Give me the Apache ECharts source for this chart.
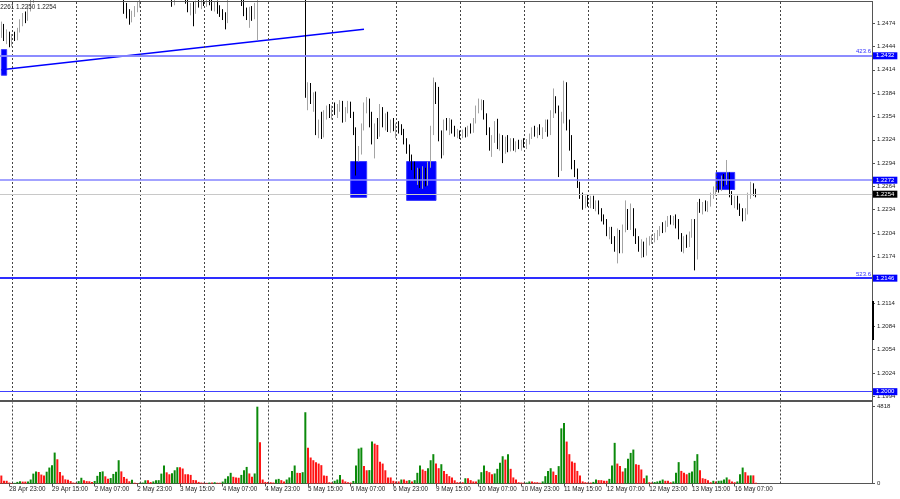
<!DOCTYPE html>
<html><head><meta charset="utf-8">
<script src="https://cdn.jsdelivr.net/npm/echarts@6/dist/echarts.min.js"></script>
<style>html,body{margin:0;padding:0;background:#fff}#c{width:900px;height:499px}</style>
</head><body><div id="c"></div>
<script>
// ---- time axis (H1 bars, weekends skipped) ----
const tradingDays = ['28 Apr','29 Apr','2 May','3 May','4 May','5 May','6 May','9 May','10 May','11 May','12 May','13 May','16 May','17 May','18 May'];
const tickLabels = ['28 Apr 23:00','29 Apr 15:00','2 May 07:00','2 May 23:00','3 May 15:00','4 May 07:00','4 May 23:00','5 May 15:00','6 May 07:00','6 May 23:00','9 May 15:00','10 May 07:00','10 May 23:00','11 May 15:00','12 May 07:00','12 May 23:00','13 May 15:00','16 May 07:00'];
const separators = ['29 Apr','2 May','3 May','4 May','5 May','6 May','9 May','10 May','11 May','12 May','13 May','16 May','17 May'];
const priceTicks = [1.2474,1.2444,1.2414,1.2384,1.2354,1.2324,1.2294,1.2264,1.2234,1.2204,1.2174,1.2144,1.2114,1.2084,1.2054,1.2024,1.1994];
const volTicks = [0, 4818];

// ---- candles [open, high, low, close] ----
const apr28 = [[1.2462,1.2476,1.2455,1.2470],[1.2470,1.2473,1.2451,1.2455],[1.2455,1.2466,1.2447,1.2461],[1.2461,1.2463,1.2443,1.2448]];
const apr29 = [[1.2448,1.2460,1.2444,1.2457],[1.2457,1.2463,1.2451,1.2454],[1.2454,1.2468,1.2452,1.2466],[1.2466,1.2479,1.2462,1.2476],[1.2476,1.2487,1.2470,1.2483],[1.2483,1.2489,1.2474,1.2479],[1.2479,1.2496,1.2477,1.2493],[1.2493,1.2507,1.2489,1.2503],[1.2503,1.2522,1.2500,1.2518],[1.2518,1.2535,1.2510,1.2530],[1.2530,1.2548,1.2522,1.2541],[1.2541,1.2560,1.2532,1.2555],[1.2555,1.2572,1.2540,1.2548],[1.2548,1.2580,1.2543,1.2575],[1.2575,1.2598,1.2566,1.2590],[1.2590,1.2613,1.2580,1.2605],[1.2605,1.2612,1.2570,1.2578],[1.2578,1.2590,1.2560,1.2568],[1.2568,1.2583,1.2561,1.2580],[1.2580,1.2588,1.2566,1.2572],[1.2572,1.2581,1.2564,1.2577],[1.2577,1.2584,1.2570,1.2574],[1.2574,1.2580,1.2566,1.2570],[1.2570,1.2578,1.2565,1.2573]];
const may2 = [[1.2573,1.2585,1.2562,1.2566],[1.2566,1.2572,1.2548,1.2552],[1.2552,1.2560,1.2538,1.2545],[1.2545,1.2556,1.2540,1.2550],[1.2550,1.2558,1.2543,1.2547],[1.2547,1.2553,1.2538,1.2541],[1.2541,1.2549,1.2534,1.2545],[1.2545,1.2552,1.2536,1.2539],[1.2539,1.2546,1.2527,1.2531],[1.2531,1.2540,1.2520,1.2536],[1.2536,1.2545,1.2524,1.2528],[1.2528,1.2535,1.2518,1.2522],[1.2522,1.2530,1.2514,1.2526],[1.2526,1.2533,1.2516,1.2519],[1.2519,1.2527,1.2508,1.2512],[1.2512,1.2524,1.2506,1.2520],[1.2520,1.2532,1.2505,1.2510],[1.2510,1.2518,1.2503,1.2507],[1.2507,1.2512,1.2486,1.2490],[1.2490,1.2500,1.2480,1.2484],[1.2484,1.2492,1.2472,1.2478],[1.2478,1.2490,1.2475,1.2487],[1.2487,1.2496,1.2482,1.2493],[1.2493,1.2502,1.2488,1.2499]];
const may3 = [[1.2499,1.2510,1.2494,1.2506],[1.2506,1.2520,1.2503,1.2516],[1.2516,1.2525,1.2508,1.2512],[1.2512,1.2522,1.2506,1.2518],[1.2518,1.2526,1.2512,1.2521],[1.2521,1.2530,1.2515,1.2526],[1.2526,1.2533,1.2517,1.2520],[1.2520,1.2528,1.2509,1.2514],[1.2514,1.2535,1.2510,1.2531],[1.2531,1.2544,1.2518,1.2522],[1.2522,1.2530,1.2508,1.2512],[1.2512,1.2520,1.2504,1.2508],[1.2508,1.2514,1.2495,1.2500],[1.2500,1.2512,1.2497,1.2509],[1.2509,1.2520,1.2505,1.2516],[1.2516,1.2524,1.2508,1.2512],[1.2512,1.2518,1.2504,1.2507],[1.2507,1.2514,1.2499,1.2503],[1.2503,1.2508,1.2488,1.2492],[1.2492,1.2500,1.2484,1.2497],[1.2497,1.2502,1.2470,1.2489],[1.2489,1.2503,1.2486,1.2500],[1.2500,1.2508,1.2494,1.2497],[1.2497,1.2506,1.2492,1.2502]];
const may4 = [[1.2502,1.2510,1.2496,1.2500],[1.2500,1.2509,1.2495,1.2505],[1.2505,1.2512,1.2497,1.2501],[1.2501,1.2506,1.2490,1.2494],[1.2494,1.2502,1.2489,1.2499],[1.2499,1.2503,1.2486,1.2490],[1.2490,1.2497,1.2482,1.2485],[1.2485,1.2492,1.2478,1.2481],[1.2481,1.2488,1.2466,1.2476],[1.2476,1.2505,1.2474,1.2502],[1.2502,1.2515,1.2502,1.2510],[1.2510,1.2518,1.2503,1.2507],[1.2507,1.2516,1.2504,1.2512],[1.2512,1.2520,1.2505,1.2509],[1.2509,1.2514,1.2496,1.2500],[1.2500,1.2505,1.2483,1.2487],[1.2487,1.2494,1.2478,1.2480],[1.2480,1.2495,1.2468,1.2490],[1.2490,1.2496,1.2477,1.2482],[1.2482,1.2500,1.2479,1.2497],[1.2497,1.2520,1.2452,1.2515],[1.2515,1.2600,1.2510,1.2590],[1.2590,1.2625,1.2580,1.2615],[1.2615,1.2630,1.2598,1.2605]];
const may5 = [[1.2605,1.2615,1.2590,1.2598],[1.2598,1.2612,1.2592,1.2606],[1.2606,1.2618,1.2600,1.2612],[1.2612,1.2630,1.2605,1.2620],[1.2620,1.2635,1.2612,1.2628],[1.2628,1.2633,1.2615,1.2618],[1.2618,1.2626,1.2608,1.2612],[1.2612,1.2622,1.2598,1.2604],[1.2604,1.2610,1.2585,1.2590],[1.2590,1.2600,1.2570,1.2578],[1.2578,1.2590,1.2560,1.2583],[1.2583,1.2592,1.2566,1.2572],[1.2572,1.2585,1.2562,1.2580],[1.2580,1.2590,1.2555,1.2560],[1.2560,1.2575,1.2378,1.2386],[1.2386,1.2398,1.2362,1.2392],[1.2392,1.2397,1.2370,1.2375],[1.2375,1.2385,1.2360,1.2381],[1.2381,1.2386,1.2330,1.2338],[1.2338,1.2350,1.2326,1.2346],[1.2346,1.2360,1.2325,1.2330],[1.2330,1.2362,1.2327,1.2358],[1.2358,1.2368,1.2350,1.2363],[1.2363,1.2370,1.2352,1.2357]];
const may6 = [[1.2357,1.2368,1.2350,1.2364],[1.2364,1.2372,1.2356,1.2360],[1.2360,1.2370,1.2352,1.2367],[1.2367,1.2375,1.2360,1.2371],[1.2371,1.2374,1.2346,1.2350],[1.2350,1.2366,1.2347,1.2362],[1.2362,1.2374,1.2358,1.2371],[1.2371,1.2373,1.2352,1.2356],[1.2356,1.2360,1.2330,1.2335],[1.2335,1.2340,1.2278,1.2308],[1.2308,1.2316,1.2296,1.2314],[1.2314,1.2345,1.2305,1.2340],[1.2340,1.2372,1.2336,1.2368],[1.2368,1.2379,1.2358,1.2374],[1.2374,1.2377,1.2340,1.2345],[1.2345,1.2360,1.2318,1.2326],[1.2326,1.2345,1.2300,1.2340],[1.2340,1.2352,1.2325,1.2330],[1.2330,1.2370,1.2328,1.2362],[1.2362,1.2366,1.2340,1.2345],[1.2345,1.2358,1.2336,1.2352],[1.2352,1.2360,1.2334,1.2338],[1.2338,1.2350,1.2333,1.2346],[1.2346,1.2352,1.2335,1.2340]];
const may9 = [[1.2330,1.2345,1.2326,1.2342],[1.2342,1.2348,1.2332,1.2336],[1.2336,1.2344,1.2330,1.2334],[1.2334,1.2338,1.2318,1.2322],[1.2322,1.2326,1.2306,1.2310],[1.2310,1.2318,1.2296,1.2300],[1.2300,1.2305,1.2285,1.2290],[1.2290,1.2296,1.2274,1.2279],[1.2279,1.2288,1.2266,1.2284],[1.2284,1.2287,1.2262,1.2268],[1.2268,1.2290,1.2261,1.2285],[1.2285,1.2288,1.2264,1.2270],[1.2270,1.2296,1.2265,1.2292],[1.2292,1.2342,1.2288,1.2338],[1.2338,1.2404,1.2330,1.2390],[1.2390,1.2398,1.2370,1.2386],[1.2386,1.2392,1.2322,1.2328],[1.2328,1.2336,1.2300,1.2308],[1.2308,1.2350,1.2304,1.2346],[1.2346,1.2352,1.2336,1.2340],[1.2340,1.2352,1.2330,1.2348],[1.2348,1.2350,1.2332,1.2336],[1.2336,1.2342,1.2328,1.2332],[1.2332,1.2338,1.2326,1.2334]];
const may10 = [[1.2334,1.2336,1.2325,1.2329],[1.2329,1.2337,1.2326,1.2333],[1.2333,1.2340,1.2327,1.2330],[1.2330,1.2342,1.2328,1.2339],[1.2339,1.2345,1.2332,1.2336],[1.2336,1.2352,1.2333,1.2349],[1.2349,1.2368,1.2345,1.2364],[1.2364,1.2377,1.2358,1.2370],[1.2370,1.2376,1.2362,1.2372],[1.2372,1.2375,1.2350,1.2355],[1.2355,1.2358,1.2330,1.2334],[1.2334,1.2340,1.2310,1.2315],[1.2315,1.2330,1.2302,1.2326],[1.2326,1.2348,1.2320,1.2344],[1.2344,1.2351,1.2312,1.2316],[1.2316,1.2332,1.2310,1.2327],[1.2327,1.2330,1.2294,1.2312],[1.2312,1.2328,1.2306,1.2324],[1.2324,1.2330,1.2308,1.2314],[1.2314,1.2326,1.2309,1.2322],[1.2322,1.2326,1.2310,1.2315],[1.2315,1.2322,1.2308,1.2319],[1.2319,1.2324,1.2312,1.2316],[1.2316,1.2324,1.2310,1.2321]];
const may11 = [[1.2321,1.2326,1.2314,1.2318],[1.2318,1.2325,1.2312,1.2322],[1.2322,1.2332,1.2318,1.2330],[1.2330,1.2340,1.2325,1.2336],[1.2336,1.2342,1.2328,1.2333],[1.2333,1.2340,1.2326,1.2337],[1.2337,1.2344,1.2330,1.2334],[1.2334,1.2340,1.2325,1.2338],[1.2338,1.2350,1.2334,1.2346],[1.2346,1.2350,1.2328,1.2332],[1.2332,1.2362,1.2330,1.2358],[1.2358,1.2390,1.2352,1.2374],[1.2374,1.2380,1.2358,1.2364],[1.2364,1.2368,1.2276,1.2290],[1.2290,1.2360,1.2284,1.2352],[1.2352,1.2400,1.2345,1.2390],[1.2390,1.2398,1.2336,1.2342],[1.2342,1.2350,1.2310,1.2316],[1.2316,1.2330,1.2286,1.2292],[1.2292,1.2298,1.2276,1.2281],[1.2281,1.2287,1.2262,1.2266],[1.2266,1.2270,1.2248,1.2252],[1.2252,1.2256,1.2234,1.2240],[1.2240,1.2252,1.2236,1.2248]];
const may12 = [[1.2248,1.2254,1.2238,1.2242],[1.2242,1.2252,1.2236,1.2249],[1.2249,1.2252,1.2235,1.2238],[1.2238,1.2246,1.2232,1.2242],[1.2242,1.2246,1.2228,1.2232],[1.2232,1.2236,1.2219,1.2222],[1.2222,1.2228,1.2215,1.2219],[1.2219,1.2222,1.2200,1.2204],[1.2204,1.2212,1.2196,1.2208],[1.2208,1.2212,1.2190,1.2194],[1.2194,1.2200,1.2180,1.2184],[1.2184,1.2210,1.2165,1.2205],[1.2205,1.2208,1.2178,1.2182],[1.2182,1.2215,1.2178,1.2210],[1.2210,1.2246,1.2205,1.2228],[1.2228,1.2235,1.2208,1.2212],[1.2212,1.2242,1.2208,1.2226],[1.2226,1.2236,1.2200,1.2204],[1.2204,1.2210,1.2190,1.2195],[1.2195,1.2200,1.2180,1.2184],[1.2184,1.2196,1.2172,1.2190],[1.2190,1.2193,1.2173,1.2178],[1.2178,1.2198,1.2175,1.2194],[1.2194,1.2200,1.2188,1.2196]];
const may13 = [[1.2196,1.2202,1.2190,1.2198],[1.2198,1.2204,1.2192,1.2200],[1.2200,1.2208,1.2195,1.2205],[1.2205,1.2213,1.2200,1.2210],[1.2210,1.2218,1.2204,1.2208],[1.2208,1.2220,1.2205,1.2217],[1.2217,1.2226,1.2212,1.2222],[1.2222,1.2227,1.2215,1.2219],[1.2219,1.2226,1.2214,1.2224],[1.2224,1.2228,1.2210,1.2216],[1.2216,1.2222,1.2196,1.2200],[1.2200,1.2204,1.2180,1.2184],[1.2184,1.2200,1.2178,1.2196],[1.2196,1.2202,1.2185,1.2190],[1.2190,1.2206,1.2186,1.2202],[1.2202,1.2222,1.2198,1.2218],[1.2218,1.2222,1.2156,1.2174],[1.2174,1.2244,1.2170,1.2240],[1.2240,1.2248,1.2230,1.2236],[1.2236,1.2244,1.2228,1.2240],[1.2240,1.2246,1.2232,1.2235],[1.2235,1.2245,1.2231,1.2242],[1.2242,1.2256,1.2238,1.2252],[1.2252,1.2264,1.2248,1.2260]];
const may16 = [[1.2262,1.2270,1.2252,1.2266],[1.2266,1.2272,1.2256,1.2260],[1.2260,1.2278,1.2258,1.2274],[1.2274,1.2280,1.2264,1.2270],[1.2270,1.2298,1.2266,1.2278],[1.2278,1.2282,1.2250,1.2254],[1.2254,1.2258,1.2240,1.2244],[1.2244,1.2252,1.2236,1.2248],[1.2248,1.2252,1.2234,1.2238],[1.2238,1.2242,1.2226,1.2230],[1.2230,1.2236,1.2219,1.2224],[1.2224,1.2236,1.2220,1.2232],[1.2232,1.2256,1.2228,1.2252],[1.2252,1.2270,1.2248,1.2264],[1.2264,1.2268,1.2252,1.2257],[1.2257,1.2261,1.2250,1.2254]];

// ---- tick volumes ----
const apr28V = [500,170,170,60];
const apr29V = [30,40,100,140,120,120,130,250,620,760,720,560,500,740,1000,1150,1940,1520,720,500,260,240,150,60];
const may2V = [40,150,360,200,150,140,100,160,480,720,760,450,300,340,600,740,1460,760,400,300,140,230,50,30];
const may3V = [40,60,200,200,90,130,200,210,620,1130,700,580,640,830,1020,1020,940,580,580,540,220,200,100,60];
const may4V = [50,40,60,60,80,50,40,120,300,460,670,420,380,360,540,830,1040,630,420,630,4818,2590,250,100];
const may5V = [100,80,60,250,290,210,130,250,380,790,1130,670,660,710,4470,2250,1630,1460,1340,1250,1150,500,480,80];
const may6V = [60,170,250,540,250,130,80,60,160,1130,2190,2250,1090,830,840,2630,2500,2420,1360,1250,830,380,380,170];
const may9V = [130,130,250,250,170,210,130,210,670,1130,880,790,960,1460,1840,1250,960,1210,790,600,460,380,200,80];
const may10V = [80,80,330,330,210,130,130,250,710,1130,790,710,580,630,920,1300,1710,1500,1840,920,380,250,80,60];
const may11V = [40,60,130,130,80,80,40,130,460,790,960,750,540,1090,3460,3800,2630,1840,1380,1300,790,500,130,80];
const may12V = [60,60,100,250,210,210,170,170,290,1130,2550,1250,1090,750,960,1550,1920,2130,1210,1170,880,330,500,80];
const may13V = [60,90,130,170,250,170,170,80,130,670,1340,790,670,580,670,750,1420,1840,830,330,290,210,80,170];
const may16V = [120,170,180,250,380,250,130,80,130,580,1000,710,500,510,510,40];

// ---- drawn objects ----
const trendLine = [['28 Apr 20:00', 1.2414], ['6 May 12:00', 1.2466]];
const zones = [
  ['28 Apr 20:00', '28 Apr 22:00', 1.2440, 1.2407],
  ['6 May 07:00', '6 May 13:00', 1.2296, 1.2250],
  ['9 May 04:00', '9 May 15:00', 1.2296, 1.2246],
  ['16 May 00:00', '16 May 07:00', 1.2282, 1.2260]
];
const levels = [
  {value: 1.2432, tag: '423.6', color: '#8484ff', width: 1.5},
  {value: 1.2272, tag: '', color: '#8484ff', width: 1.5},
  {value: 1.2146, tag: '523.6', color: '#2020ff', width: 1.5},
  {value: 1.2000, tag: '', color: '#4040ff', width: 1.2}
];
const lastPrice = 1.2254;
const headerText = '1.2261 1.2250 1.2254';

// ---- build ----
const categories = [];
tradingDays.forEach((d, k) => {
  for (let h = 0; h < 24; h++) {
    if (k === 0 && h < 20) continue;
    categories.push(d + ' ' + String(h).padStart(2, '0') + ':00');
  }
});
categories.length = 327;

const bars = [].concat(apr28, apr29, may2, may3, may4, may5, may6, may9, may10, may11, may12, may13, may16);
const candleData = bars.map(r => [r[0], r[3], r[2], r[1]]);
const volData = [].concat(apr28V, apr29V, may2V, may3V, may4V, may5V, may6V, may9V, may10V, may11V, may12V, may13V, may16V);
const volColors = volData.map((v, i) => (i > 0 && v > volData[i - 1]) ? '#0b8a0b' : '#ff1414');

const FONT = 'Liberation Sans, Arial, sans-serif';
const vLines = separators.map(d => ({xAxis: d + ' 00:00'}));
const vLineStyle = {color: '#444', type: [2, 2], width: 1};
const boxLabel = (txt, bg) => ({show: true, position: 'end', distance: 1, formatter: txt,
  backgroundColor: bg, color: '#fff', fontSize: 6, fontFamily: FONT, padding: [1, 3, 0, 3], lineHeight: 6});

const hLines = [];
levels.forEach(l => {
  hLines.push({yAxis: l.value, lineStyle: {color: l.color, width: l.width, type: 'solid'},
    label: boxLabel(l.value.toFixed(4), '#0000ff')});
  if (l.tag) hLines.push({yAxis: l.value, lineStyle: {color: l.color, width: l.width, type: 'solid'},
    label: {show: true, position: 'insideEndTop', distance: 1, formatter: l.tag, color: '#3030ff', fontSize: 6, fontFamily: FONT}});
});
hLines.push({yAxis: lastPrice, lineStyle: {color: '#c8c8c8', width: 1, type: 'solid'},
  label: boxLabel(lastPrice.toFixed(4), '#000000')});

const chart = echarts.init(document.getElementById('c'));
chart.setOption({
  animation: false,
  backgroundColor: '#ffffff',
  grid: [
    {left: 0, top: 2, width: 872, height: 398},
    {left: 0, top: 402.5, width: 872, height: 81}
  ],
  xAxis: [
    {type: 'category', gridIndex: 0, data: categories, boundaryGap: true, show: false},
    {type: 'category', gridIndex: 1, data: categories, boundaryGap: true,
     axisLine: {show: true, lineStyle: {color: '#555', width: 1}},
     axisTick: {show: true, alignWithLabel: true, length: 3, lineStyle: {color: '#555'},
       interval: (i, v) => tickLabels.includes(v)},
     axisLabel: {show: true, interval: (i, v) => tickLabels.includes(v), align: 'left',
       fontSize: 6.3, fontFamily: FONT, color: '#222', margin: 3},
     splitLine: {show: false}}
  ],
  yAxis: [
    {type: 'value', gridIndex: 0, position: 'right', min: 1.19893, max: 1.25012, scale: true,
     splitLine: {show: false},
     axisLine: {show: true, lineStyle: {color: '#555'}},
     axisTick: {show: true, length: 3, lineStyle: {color: '#555'}, customValues: priceTicks},
     axisLabel: {show: true, customValues: priceTicks, formatter: v => v.toFixed(4),
       fontSize: 6, fontFamily: FONT, color: '#222', margin: 5}},
    {type: 'value', gridIndex: 1, position: 'right', min: 0, max: 5081,
     splitLine: {show: false},
     axisLine: {show: true, lineStyle: {color: '#555'}},
     axisTick: {show: true, length: 3, lineStyle: {color: '#555'}, customValues: volTicks},
     axisLabel: {show: true, customValues: volTicks, formatter: v => String(Math.round(v)),
       fontSize: 6, fontFamily: FONT, color: '#222', margin: 5}}
  ],
  series: [
    {type: 'line', xAxisIndex: 0, yAxisIndex: 0, z: 1, data: trendLine, symbol: 'none', silent: true,
     lineStyle: {color: '#0000ff', width: 1.5},
     markArea: {silent: true, itemStyle: {color: '#0000ff', borderColor: '#3b3bff', borderWidth: 1},
       data: zones.map(z => [{xAxis: z[0], yAxis: z[2]}, {xAxis: z[1], yAxis: z[3]}])}},
    {type: 'candlestick', xAxisIndex: 0, yAxisIndex: 0, z: 3, data: candleData, clip: true,
     barWidth: 1, silent: true,
     itemStyle: {color: '#a4a4a4', color0: '#000000', borderColor: '#a4a4a4', borderColor0: '#000000', borderWidth: 1},
     markLine: {silent: true, symbol: ['none', 'none'], animation: false, precision: 5,
       data: vLines.map(d => Object.assign({}, d, {lineStyle: vLineStyle, label: {show: false}})).concat(hLines)}},
    {type: 'bar', xAxisIndex: 1, yAxisIndex: 1, data: volData, barWidth: 2, silent: true,
     itemStyle: {color: p => volColors[p.dataIndex]},
     markLine: {silent: true, symbol: ['none', 'none'], animation: false,
       data: vLines.map(d => Object.assign({}, d, {lineStyle: vLineStyle, label: {show: false}}))}}
  ],
  graphic: [
    {type: 'rect', shape: {x: 0, y: 1, width: 873, height: 1}, style: {fill: '#555'}, z: 10},
    {type: 'rect', shape: {x: 0, y: 400, width: 873, height: 2}, style: {fill: '#555'}, z: 10},
    {type: 'rect', shape: {x: 872, y: 301, width: 2, height: 39}, style: {fill: '#000'}, z: 10},
    {type: 'text', x: -5, y: 7, z: 10, style: {text: headerText, fill: '#222', font: '6.3px ' + FONT, textVerticalAlign: 'middle'}}
  ]
});
</script></body></html>
